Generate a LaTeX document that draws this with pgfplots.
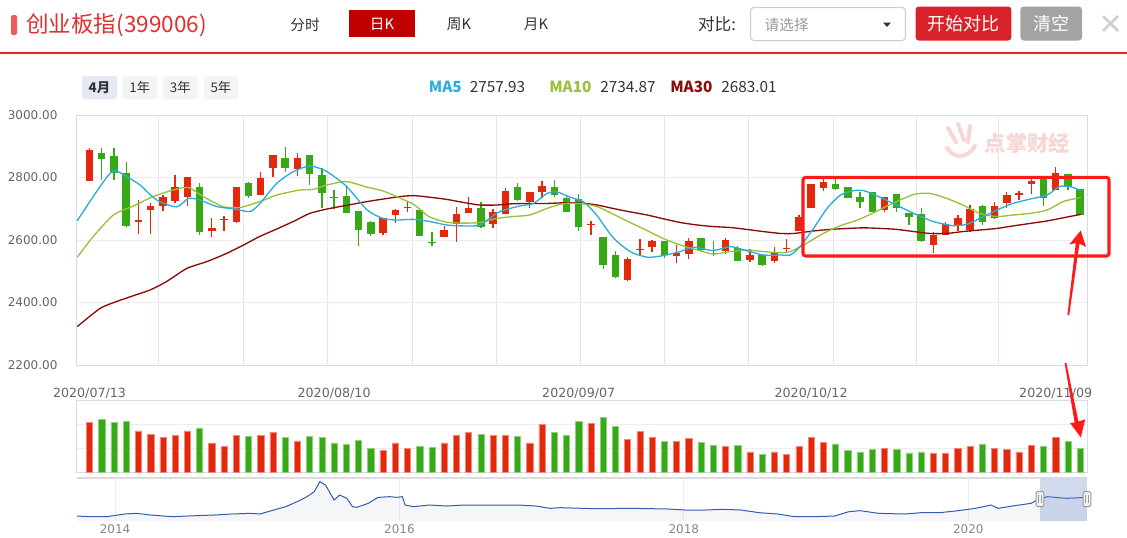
\documentclass[border=0pt]{standalone}
\usepackage{fontspec}
\setmainfont{DejaVu Sans}
\newfontfamily\cjk{Noto Sans CJK SC}
\usepackage{pgfplots}
\usepackage{pgfplotstable}
\pgfplotsset{compat=1.18}

\definecolor{upred}{HTML}{E3290B}
\definecolor{dngreen}{HTML}{35A916}
\definecolor{ma5}{HTML}{2BAEDB}
\definecolor{ma10}{HTML}{98C23C}
\definecolor{ma30}{HTML}{8E0A0A}
\definecolor{gridc}{HTML}{EDEDED}
\definecolor{vgrid}{HTML}{E2E8F0}
\definecolor{axisc}{HTML}{D5DDEA}
\definecolor{tickc}{HTML}{666666}
\definecolor{titlered}{HTML}{E03030}
\definecolor{tabred}{HTML}{C00000}
\definecolor{btnred}{HTML}{D9222A}
\definecolor{btngray}{HTML}{A3A3A3}
\definecolor{navline}{HTML}{335CAD}
\definecolor{navmask}{HTML}{6685C2}
\definecolor{markred}{HTML}{FF1A1A}
\definecolor{txt}{HTML}{333333}

% rising candles (close > open): index, open, high, low, close, volume
\pgfplotstableread{
i o h l c v
1 2789 2895 2789 2888 2.07
5 2658 2728 2619 2664 1.72
6 2697 2717 2619 2710 1.58
7 2708 2744 2693 2737 1.44
8 2725 2808 2717 2769 1.54
9 2739 2801 2710 2801 1.72
11 2630 2670 2609 2638 1.22
12 2664 2677 2630 2667 1.08
13 2657 2770 2654 2769 1.54
15 2744 2819 2744 2797 1.54
16 2830 2872 2803 2872 1.67
18 2827 2877 2806 2861 1.30
25 2621 2670 2616 2670 0.90
26 2679 2698 2655 2695 1.22
27 2703 2723 2689 2706 0.98
30 2609 2645 2609 2631 1.22
31 2650 2706 2595 2684 1.54
32 2685 2738 2685 2702 1.67
34 2651 2699 2639 2689 1.54
35 2684 2765 2682 2758 1.54
37 2721 2755 2703 2753 1.22
38 2753 2789 2733 2773 1.99
42 2648 2661 2616 2652 2.02
45 2472 2545 2470 2538 1.36
46 2567 2603 2550 2571 1.69
47 2578 2599 2563 2597 1.46
49 2550 2584 2525 2559 1.27
50 2556 2605 2539 2597 1.40
53 2565 2607 2554 2600 1.09
55 2537 2571 2531 2552 0.85
57 2534 2579 2525 2563 0.85
58 2572 2603 2557 2575 0.76
59 2630 2680 2630 2675 1.09
60 2701 2779 2701 2779 1.46
61 2767 2795 2757 2787 1.23
66 2696 2739 2691 2739 0.98
70 2584 2627 2557 2616 0.81
71 2616 2657 2616 2650 0.81
72 2646 2680 2630 2669 0.98
73 2632 2712 2627 2699 1.09
75 2669 2723 2667 2710 0.98
76 2717 2755 2701 2744 0.94
77 2745 2758 2728 2751 0.85
78 2780 2797 2746 2790 1.13
80 2760 2833 2760 2813 1.46
}\up

% falling candles
\pgfplotstableread{
i o h l c v
2 2877 2893 2792 2859 2.21
3 2868 2895 2792 2813 2.07
4 2814 2851 2641 2644 2.13
10 2769 2783 2616 2627 1.84
14 2781 2787 2735 2741 1.48
17 2863 2897 2819 2829 1.44
19 2872 2872 2776 2812 1.48
20 2808 2829 2703 2749 1.44
21 2738 2760 2699 2735 1.22
22 2741 2776 2685 2685 1.16
23 2692 2692 2581 2633 1.34
24 2657 2661 2613 2618 0.98
28 2695 2695 2613 2613 1.08
29 2593 2627 2581 2590 1.02
33 2702 2721 2637 2643 1.59
36 2769 2781 2725 2728 1.48
39 2769 2791 2739 2744 1.67
40 2735 2741 2689 2689 1.54
41 2731 2746 2630 2641 2.10
43 2611 2611 2506 2520 2.28
44 2552 2565 2477 2483 1.92
48 2597 2597 2541 2552 1.27
51 2605 2607 2565 2568 1.23
52 2559 2597 2550 2555 1.13
54 2575 2581 2534 2534 1.13
56 2552 2552 2518 2520 0.76
62 2778 2795 2760 2763 1.18
63 2771 2771 2735 2735 0.90
64 2737 2755 2701 2723 0.85
65 2753 2753 2689 2689 0.94
67 2747 2747 2691 2701 0.94
68 2687 2687 2648 2673 0.81
69 2682 2701 2595 2597 0.85
74 2710 2712 2648 2657 1.18
79 2797 2803 2710 2733 1.09
81 2810 2810 2760 2771 1.27
82 2763 2763 2680 2680 0.98
}\down

\begin{document}
\begin{tikzpicture}
\begin{scope}[x=0.75pt,y=-0.75pt]
\fill[white] (0,0) rectangle (1127,535);
\useasboundingbox (0,0) rectangle (1127,535);

% ---------- header ----------
\fill[color={rgb,255:red,240;green,90;blue,90}, rounded corners=1.5pt] (11,15) rectangle (17,35);
\node[anchor=west, inner sep=0, text=titlered, font=\cjk\fontsize{16.9pt}{18pt}\selectfont] at (26,25) {创业板指(399006)};
\node[text=txt, font=\cjk\fontsize{11pt}{12pt}\selectfont] at (305,24.5) {分时};
\fill[tabred] (349,10) rectangle (415,37);
\node[text=white, font=\cjk\fontsize{11pt}{12pt}\selectfont] at (382,24) {日K};
\node[text=txt, font=\cjk\fontsize{11pt}{12pt}\selectfont] at (459,24.5) {周K};
\node[text=txt, font=\cjk\fontsize{11pt}{12pt}\selectfont] at (536,24.5) {月K};
\node[text=txt, font=\cjk\fontsize{12.5pt}{14pt}\selectfont] at (717,24.5) {对比:};
\draw[color={rgb,255:red,204;green,204;blue,204}, rounded corners=2.5pt, line width=0.75pt] (750.6,7.5) rectangle (905.4,40.5);
\node[anchor=west, text={rgb,255:red,153;green,153;blue,153}, font=\cjk\fontsize{11pt}{12pt}\selectfont] at (760,24.5) {请选择};
\fill[txt] (883,22.5) -- (891,22.5) -- (887,27) -- cycle;
\fill[btnred, rounded corners=2.5pt] (915.5,6.5) rectangle (1011.4,40.5);
\node[text=white, font=\cjk\fontsize{13.5pt}{15pt}\selectfont] at (963.5,23.5) {开始对比};
\fill[btngray, rounded corners=2.5pt] (1020.4,6.5) rectangle (1082,40.5);
\node[text=white, font=\cjk\fontsize{13.5pt}{15pt}\selectfont] at (1051.2,23.5) {清空};
\draw[color={rgb,255:red,208;green,208;blue,208}, line width=2pt] (1103,16) -- (1118,31) (1103,31) -- (1118,16);
\fill[color={rgb,255:red,224;green,40;blue,40}] (0,51.5) rectangle (1127,53.5);

% range buttons
\fill[color={rgb,255:red,228;green,233;blue,244}, rounded corners=1.5pt] (82,76) rectangle (116.8,99.3);
\node[text=txt, font=\cjk\bfseries\fontsize{10pt}{12pt}\selectfont] at (99.4,87.6) {4月};
\foreach \a/\b/\t in {122.5/157.1/1年, 163.2/197.5/3年, 203.6/238.2/5年}{
  \fill[color={rgb,255:red,244;green,244;blue,244}, rounded corners=1.5pt] (\a,76) rectangle (\b,99.3);
  \node[text=txt, font=\cjk\fontsize{10pt}{12pt}\selectfont] at ({(\a+\b)/2},87.6) {\t};
}

% legend
\node[anchor=west, inner sep=0, text=ma5, font=\cjk\bfseries\fontsize{11.5pt}{13pt}\selectfont] at (428.6,87.3) {MA5};
\node[anchor=west, inner sep=0, text=txt, font=\cjk\fontsize{11.5pt}{13pt}\selectfont] at (469.6,87.3) {2757.93};
\node[anchor=west, inner sep=0, text=ma10, font=\cjk\bfseries\fontsize{11.5pt}{13pt}\selectfont] at (549,87.3) {MA10};
\node[anchor=west, inner sep=0, text=txt, font=\cjk\fontsize{11.5pt}{13pt}\selectfont] at (600,87.3) {2734.87};
\node[anchor=west, inner sep=0, text=ma30, font=\cjk\bfseries\fontsize{11.5pt}{13pt}\selectfont] at (670,87.3) {MA30};
\node[anchor=west, inner sep=0, text=txt, font=\cjk\fontsize{11.5pt}{13pt}\selectfont] at (721,87.3) {2683.01};

% watermark
\node[text={rgb,255:red,247;green,214;blue,214}, font=\cjk\bfseries\fontsize{16pt}{18pt}\selectfont, anchor=west] at (980,143) {点掌财经};
\draw[color={rgb,255:red,247;green,214;blue,214}, line width=3pt, line cap=round] (948,128) -- (956,142) (958,124) -- (964,140) (970,126) -- (968,142) (947,148) .. controls (955,160) and (968,158) .. (975,146);
\end{scope}

% ---------- price chart ----------
\begin{axis}[
  at={({76.8*0.75pt},{-365*0.75pt})}, anchor=south west, scale only axis,
  width=757.65pt, height=187.5pt,
  xmin=-0.04, xmax=82.56, ymin=2200, ymax=3000,
  ytick={2200,2400,2600,2800,3000},
  yticklabel={\pgfmathprintnumber[fixed,fixed zerofill,precision=2,1000 sep={}]{\tick}},
  /pgf/number format/assume math mode=true,
  xtick={6.68,13.55,20.42,27.37,34.24,41.11,47.98,54.85,61.8,68.58,75.29},
  xticklabels={},
  extra x ticks={1,21,41,60,80},
  extra x tick labels={2020/07/13,2020/08/10,2020/09/07,2020/10/12,2020/11/09},
  extra x tick style={grid=none, major tick length=0pt, xticklabel style={yshift=-13.5pt}},
  xmajorgrids, ymajorgrids,
  every axis x grid/.append style={color=vgrid, line width=0.75pt},
  every axis y grid/.append style={color=gridc, line width=0.75pt},
  major tick length=0pt,
  axis line style={draw=axisc, line width=0.75pt},
  tick label style={text=tickc},
  yticklabel style={font=\fontsize{9pt}{10pt}\selectfont, xshift=-11pt},
  xticklabel style={font=\fontsize{9.5pt}{10pt}\selectfont},
]
\addplot [quiver={u=0, v=\thisrow{h}-\thisrow{l}}, draw=upred, line width=1pt] table [x=i, y=l] {\up};
\addplot [quiver={u=0, v=\thisrow{c}-\thisrow{o}}, draw=upred, line width=5.6pt] table [x=i, y=o] {\up};
\addplot [quiver={u=0, v=\thisrow{h}-\thisrow{l}}, draw=dngreen, line width=1pt] table [x=i, y=l] {\down};
\addplot [quiver={u=0, v=\thisrow{c}-\thisrow{o}}, draw=dngreen, line width=5.6pt] table [x=i, y=o] {\down};

\addplot [ma30, line width=1pt, smooth, tension=0.4] coordinates {
(0,2323) (1.86,2381) (3.2,2403) (4.6,2422) (5.95,2440) (7.3,2467) (8.95,2509) (10.6,2531) (12.2,2557) (13.6,2584) (14.9,2611) (16.3,2635) (17.7,2660) (19.0,2685) (20.4,2699) (22.3,2713) (23.7,2723) (25.0,2731) (26.4,2739) (27.5,2742) (28.8,2737) (30.2,2730) (31.6,2720) (32.9,2712) (34.3,2712) (35.6,2716) (37.0,2717) (38.4,2717) (39.7,2719) (41.1,2719) (42.5,2712) (43.8,2701) (45.2,2690) (46.6,2680) (47.9,2668) (49.3,2656) (50.7,2648) (52.0,2643) (53.4,2640) (54.7,2634) (56.1,2627) (57.5,2621) (58.6,2621) (60.2,2629) (61.6,2634) (63.0,2637) (64.3,2639) (65.7,2637) (67.0,2634) (68.4,2627) (69.7,2621) (71.1,2621) (72.4,2627) (73.8,2632) (75.2,2637) (76.5,2645) (77.9,2653) (79.3,2661) (80.6,2671) (82.05,2682)};
\addplot [ma10, line width=1pt, smooth, tension=0.4] coordinates {
(0,2545) (1.3,2611) (2.95,2680) (4.6,2709) (6.2,2739) (7.85,2760) (9.1,2768) (10.3,2739) (11.9,2707) (13.3,2704) (14.94,2723) (16.3,2744) (18.2,2760) (19.3,2762) (20.4,2776) (22.0,2787) (23.7,2769) (25.0,2757) (26.1,2739) (27.5,2714) (28.8,2674) (30.2,2657) (31.6,2654) (32.9,2656) (34.3,2669) (35.6,2675) (37.0,2680) (38.4,2701) (39.7,2716) (41.1,2717) (42.5,2707) (43.8,2683) (45.2,2656) (46.6,2630) (47.9,2605) (49.3,2584) (50.7,2568) (52.0,2555) (53.4,2563) (54.7,2568) (56.1,2563) (57.5,2559) (58.3,2563) (59.6,2589) (61.0,2621) (62.4,2646) (63.8,2664) (65.1,2687) (66.5,2714) (68.4,2746) (69.7,2749) (71.1,2733) (72.4,2712) (73.8,2685) (75.2,2675) (76.5,2680) (77.9,2685) (79.3,2696) (80.6,2723) (82.05,2736)};
\addplot [ma5, line width=1pt, smooth, tension=0.4] coordinates {
(0,2662) (1.86,2771) (2.95,2822) (4.04,2803) (5.13,2776) (6.49,2728) (8.13,2706) (9.08,2733) (10.04,2728) (11.4,2707) (12.76,2700) (14.12,2691) (14.94,2717) (16.3,2781) (17.67,2819) (19.03,2837) (20.4,2819) (22.03,2771) (23.7,2696) (25.0,2669) (26.1,2664) (27.5,2666) (28.84,2659) (30.2,2648) (31.6,2645) (32.9,2648) (34.5,2690) (36.2,2709) (37.3,2717) (38.4,2749) (39.2,2754) (40.3,2737) (41.4,2722) (42.5,2678) (43.8,2608) (45.2,2563) (46.6,2545) (47.9,2550) (49.3,2563) (50.4,2577) (52.0,2566) (53.4,2579) (54.7,2566) (56.1,2552) (57.5,2552) (58.3,2552) (59.1,2579) (60.2,2637) (61.3,2701) (62.4,2744) (63.5,2758) (64.3,2758) (65.4,2741) (66.7,2717) (68.4,2685) (70.0,2659) (71.6,2646) (72.7,2650) (73.8,2669) (75.2,2696) (76.5,2717) (77.9,2731) (79.3,2744) (80.3,2771) (81.2,2771) (82.05,2758)};
\end{axis}

% ---------- volume chart ----------
\begin{axis}[
  at={({76.8*0.75pt},{-472.3*0.75pt})}, anchor=south west, scale only axis,
  width=757.65pt, height=54.2pt,
  xmin=-0.04, xmax=82.56, ymin=0, ymax=3,
  xtick=\empty, ytick={1,2}, yticklabels={},
  ymajorgrids, major tick length=0pt,
  every axis y grid/.append style={color=gridc, line width=0.75pt},
  axis line style={draw=axisc, line width=0.75pt},
]
\addplot [ybar, bar width=4.65pt, bar shift=0pt, fill=upred, draw=upred!55] table [x=i, y=v] {\up};
\addplot [ybar, bar width=4.65pt, bar shift=0pt, fill=dngreen, draw=dngreen!55] table [x=i, y=v] {\down};
\end{axis}

% ---------- navigator ----------
\begin{axis}[
  at={({76.8*0.75pt},{-521*0.75pt})}, anchor=south west, scale only axis,
  width=757.65pt, height=33pt,
  xmin=2013.731, xmax=2020.835, ymin=686, ymax=4330,
  xtick={2014,2016,2018,2020}, ytick=\empty,
  xticklabel={\pgfmathprintnumber[1000 sep={}]{\tick}},
  /pgf/number format/assume math mode=true,
  xmajorgrids, major tick length=0pt,
  every axis x grid/.append style={color=gridc, line width=0.75pt},
  axis line style={draw=none},
  xticklabel style={text={rgb,255:red,136;green,136;blue,136}, font=\fontsize{9pt}{10pt}\selectfont, yshift=1pt},
]
\addplot [draw=none, fill=navline, fill opacity=0.05] coordinates {
(2013.73,1100)(2013.82,1045)(2013.94,1045)(2014.07,1266)(2014.15,1321)(2014.25,1183)(2014.40,1045)(2014.57,1128)(2014.70,1183)(2014.82,1266)(2014.95,1321)(2015.02,1266)(2015.10,1542)(2015.20,1873)(2015.28,2287)(2015.35,2701)(2015.40,3115)(2015.44,3943)(2015.48,3667)(2015.54,2425)(2015.58,2839)(2015.63,2563)(2015.67,1873)(2015.70,1818)(2015.78,2149)(2015.85,2646)(2015.93,2701)(2015.98,2646)(2016.02,2701)(2016.04,2011)(2016.10,1873)(2016.21,2011)(2016.33,1928)(2016.46,2011)(2016.58,2011)(2016.71,2011)(2016.83,2011)(2016.96,1928)(2017.06,1735)(2017.13,1790)(2017.38,1707)(2017.64,1735)(2017.89,1680)(2018.01,1597)(2018.15,1597)(2018.27,1652)(2018.40,1597)(2018.53,1376)(2018.66,1266)(2018.78,1045)(2018.91,1045)(2019.06,1100)(2019.16,1459)(2019.24,1542)(2019.37,1321)(2019.55,1266)(2019.67,1376)(2019.80,1376)(2019.93,1542)(2020.05,1735)(2020.16,2011)(2020.21,1735)(2020.31,1928)(2020.44,2149)(2020.51,2563)(2020.56,2701)(2020.69,2563)(2020.84,2646)} \closedcycle;
\addplot [navline, line width=0.75pt] coordinates {
(2013.73,1100)(2013.82,1045)(2013.94,1045)(2014.07,1266)(2014.15,1321)(2014.25,1183)(2014.40,1045)(2014.57,1128)(2014.70,1183)(2014.82,1266)(2014.95,1321)(2015.02,1266)(2015.10,1542)(2015.20,1873)(2015.28,2287)(2015.35,2701)(2015.40,3115)(2015.44,3943)(2015.48,3667)(2015.54,2425)(2015.58,2839)(2015.63,2563)(2015.67,1873)(2015.70,1818)(2015.78,2149)(2015.85,2646)(2015.93,2701)(2015.98,2646)(2016.02,2701)(2016.04,2011)(2016.10,1873)(2016.21,2011)(2016.33,1928)(2016.46,2011)(2016.58,2011)(2016.71,2011)(2016.83,2011)(2016.96,1928)(2017.06,1735)(2017.13,1790)(2017.38,1707)(2017.64,1735)(2017.89,1680)(2018.01,1597)(2018.15,1597)(2018.27,1652)(2018.40,1597)(2018.53,1376)(2018.66,1266)(2018.78,1045)(2018.91,1045)(2019.06,1100)(2019.16,1459)(2019.24,1542)(2019.37,1321)(2019.55,1266)(2019.67,1376)(2019.80,1376)(2019.93,1542)(2020.05,1735)(2020.16,2011)(2020.21,1735)(2020.31,1928)(2020.44,2149)(2020.51,2563)(2020.56,2701)(2020.69,2563)(2020.84,2646)};
\end{axis}

\begin{scope}[x=0.75pt,y=-0.75pt]
% navigator outline, mask and handles
\draw[color={rgb,255:red,220;green,220;blue,220}, line width=1.5pt] (76.8,477.5) -- (1040,477.5);
\fill[navmask, fill opacity=0.3] (1040,477) rectangle (1087,521);
\foreach \hx in {1040,1087}{
  \draw[fill={rgb,255:red,242;green,242;blue,242}, draw={rgb,255:red,153;green,153;blue,153}, line width=0.75pt, rounded corners=1pt] (\hx-3.8,491.5) rectangle (\hx+3.8,506.5);
  \draw[draw={rgb,255:red,153;green,153;blue,153}, line width=0.6pt] (\hx-1.2,495) -- (\hx-1.2,503) (\hx+1.2,495) -- (\hx+1.2,503);
}

% ---------- annotations ----------
\draw[markred, line width=2.3pt, rounded corners=2pt] (803,177.3) rectangle (1109,256);
\fill[markred] (1067.4,315) -- (1075.8,243) -- (1069.3,244.5) -- (1080.7,230.5) -- (1086,247) -- (1079.4,243.6) -- (1069.2,315) -- cycle;
\fill[markred] (1064.6,363) -- (1074.6,422.6) -- (1070,422.9) -- (1080.8,437.5) -- (1085.2,419.3) -- (1078.4,421.6) -- (1066.4,363) -- cycle;
\end{scope}
\end{tikzpicture}
\end{document}
